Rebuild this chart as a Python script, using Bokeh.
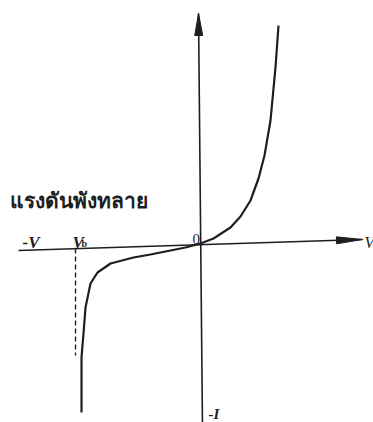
import numpy as np
from bokeh.plotting import figure
from bokeh.core.properties import value
from bokeh.embed import file_html
from bokeh.resources import INLINE

# I-V characteristic of a diode (arbitrary units, origin at 0,0)
forward_v = [0, 13, 30, 40, 50, 58, 64, 70, 75, 78]
forward_i = [0, 5, 16, 27, 43, 65, 88, 123, 176, 218]
reverse_v = [0, -15, -30, -50, -67, -90, -103, -110, -115, -117, -119, -119]
reverse_i = [0, -4, -7, -11, -14, -20, -29, -40, -64, -90, -114, -169]
breakdown_v = -125
breakdown_i_end = -112

# axis lines (slightly tilted as in the scanned sketch)
haxis_v = [-182, 162]
haxis_i = [-7, 4]
vaxis_v = [2, -2]
vaxis_i = [-185, 230]

p = figure(width=373, height=422, x_range=(-200, 173), y_range=(-179, 243),
           output_backend="svg", toolbar_location=None, min_border=0)
p.axis.visible = False
p.grid.visible = False
p.outline_line_color = None
p.background_fill_color = "white"
p.border_fill_color = "white"

ink = "#1e1e1e"

# axes
p.line(haxis_v, haxis_i, line_color=ink, line_width=1.6)
p.line(vaxis_v, vaxis_i, line_color=ink, line_width=1.6)

def head(x0, y0, x1, y1, length, half):
    d = np.array([x1 - x0, y1 - y0], float)
    d /= np.hypot(*d)
    n = np.array([-d[1], d[0]])
    tip = np.array([x1, y1])
    base = tip - d * length
    pts = [tip, base + n * half, base - n * half]
    return [q[0] for q in pts], [q[1] for q in pts]

hx, hy = head(haxis_v[0], haxis_i[0], haxis_v[1], haxis_i[1], 26, 3.5)
p.patch(hx, hy, fill_color=ink, line_color=ink, line_width=1)
vx, vy = head(vaxis_v[0], vaxis_i[0], vaxis_v[1], vaxis_i[1], 22, 4)
p.patch(vx, vy, fill_color=ink, line_color=ink, line_width=1)

# curves
p.line(forward_v, forward_i, line_color=ink, line_width=2.2, line_join="round")
p.line(reverse_v, reverse_i, line_color=ink, line_width=2.2, line_join="round")

# breakdown dashed line
p.line([breakdown_v, breakdown_v], [-5, breakdown_i_end], line_color=ink,
       line_width=1.4, line_dash="5 3")

serif = value("Liberation Serif")
p.text(x=[-191], y=[44], text=["แรงดันพังทลาย"], text_font=value("Noto Sans"),
       text_font_size="21px", text_font_style="bold", text_color=ink,
       text_baseline="alphabetic", text_align="left")
p.text(x=[-178], y=[1], text=["-V"], text_font=serif, text_font_size="17px",
       text_font_style="bold italic", text_color=ink, text_baseline="alphabetic")
p.text(x=[-128], y=[1], text=["V"], text_font=serif, text_font_size="17px",
       text_font_style="bold italic", text_color=ink, text_baseline="alphabetic")
p.text(x=[-119], y=[0], text=["b"], text_font=serif, text_font_size="10px",
       text_font_style="bold", text_color=ink, text_baseline="alphabetic")
p.text(x=[-8], y=[5], text=["0"], text_font=serif, text_font_size="15px",
       text_color=ink, text_baseline="alphabetic")
p.text(x=[8], y=[-170], text=["-I"], text_font=serif, text_font_size="15px",
       text_font_style="bold italic", text_color=ink, text_baseline="alphabetic")
p.text(x=[164], y=[1], text=["V"], text_font=serif, text_font_size="16px",
       text_font_style="italic", text_color=ink, text_baseline="alphabetic")

open("out.html", "w").write(file_html(p, INLINE))
